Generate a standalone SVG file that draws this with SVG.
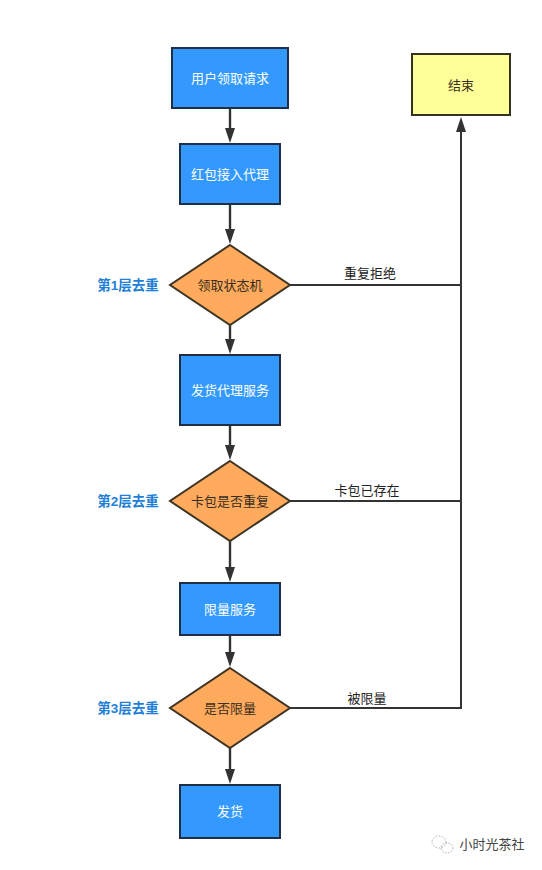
<svg xmlns="http://www.w3.org/2000/svg" width="542" height="870" viewBox="0 0 542 870">
<style>
text{font-family:"Liberation Sans","Noto Sans CJK SC",sans-serif;font-size:13px;text-anchor:middle;dominant-baseline:central}
.b{fill:#3399ff;stroke:#1f2f45;stroke-width:2}
.y{fill:#ffff99;stroke:#33311f;stroke-width:2}
.d{fill:#ffaa5c;stroke:#3f3524;stroke-width:2}
.w{fill:#fff}
.k{fill:#3a2f20}
.t{fill:#222}
.l{fill:#1f7fd6;font-weight:700;font-size:13.5px}
.c{fill:none;stroke:#333;stroke-width:2}
.v{stroke-width:2.4}
.i{fill:none;stroke:#aaa;stroke-width:1;stroke-dasharray:1.5 1.5}
</style>
<defs><marker id="a" markerUnits="userSpaceOnUse" markerWidth="16" markerHeight="11" refX="10" refY="5.5" orient="auto"><path d="M0 .5L15 5.5L0 10.5Z" fill="#333"/></marker></defs>
<rect width="542" height="870" fill="#fff"/>
<g id="connectors">
<path class="c v" marker-end="url(#a)" d="M230 109V138"/>
<path class="c v" marker-end="url(#a)" d="M230 204V239"/>
<path class="c v" marker-end="url(#a)" d="M230 325V349"/>
<path class="c v" marker-end="url(#a)" d="M230 425V455"/>
<path class="c v" marker-end="url(#a)" d="M230 541V577"/>
<path class="c v" marker-end="url(#a)" d="M230 635V662"/>
<path class="c v" marker-end="url(#a)" d="M230 748V779"/>
<path class="c" marker-end="url(#a)" d="M290 708H461V122"/>
<path class="c" d="M290 285H461"/>
<path class="c" d="M290 501H461"/>
<text class="t" x="370" y="273">重复拒绝</text>
<text class="t" x="367" y="490">卡包已存在</text>
<text class="t" x="367" y="698">被限量</text>
</g>
<g id="n1"><rect class="b" x="172" y="48" width="116" height="60"/><text class="w" x="230" y="78">用户领取请求</text></g>
<g id="n2"><rect class="b" x="180" y="144" width="100" height="60"/><text class="w" x="230" y="174">红包接入代理</text></g>
<g id="n3"><path class="d" d="M230 245L290 285L230 325L170 285Z"/><text class="k" x="230" y="285">领取状态机</text></g>
<g id="n4"><rect class="b" x="180" y="355" width="100" height="70"/><text class="w" x="230" y="390">发货代理服务</text></g>
<g id="n5"><path class="d" d="M230 461L290 501L230 541L170 501Z"/><text class="k" x="230" y="501">卡包是否重复</text></g>
<g id="n6"><rect class="b" x="180" y="583" width="100" height="52"/><text class="w" x="230" y="609">限量服务</text></g>
<g id="n7"><path class="d" d="M230 668L290 708L230 748L170 708Z"/><text class="k" x="230" y="708">是否限量</text></g>
<g id="n8"><rect class="b" x="180" y="785" width="100" height="53"/><text class="w" x="230" y="811">发货</text></g>
<g id="n9"><rect class="y" x="412" y="54" width="98" height="61"/><text class="k" x="461" y="85">结束</text></g>
<g id="l1"><text class="l" x="128" y="285">第1层去重</text></g>
<g id="l2"><text class="l" x="128" y="501">第2层去重</text></g>
<g id="l3"><text class="l" x="128" y="708">第3层去重</text></g>
<g id="wm"><ellipse class="i" cx="439" cy="842" rx="7" ry="6"/><ellipse class="i" cx="447" cy="848" rx="6" ry="5"/><text x="492" y="844" fill="#444">小时光茶社</text></g>
</svg>
